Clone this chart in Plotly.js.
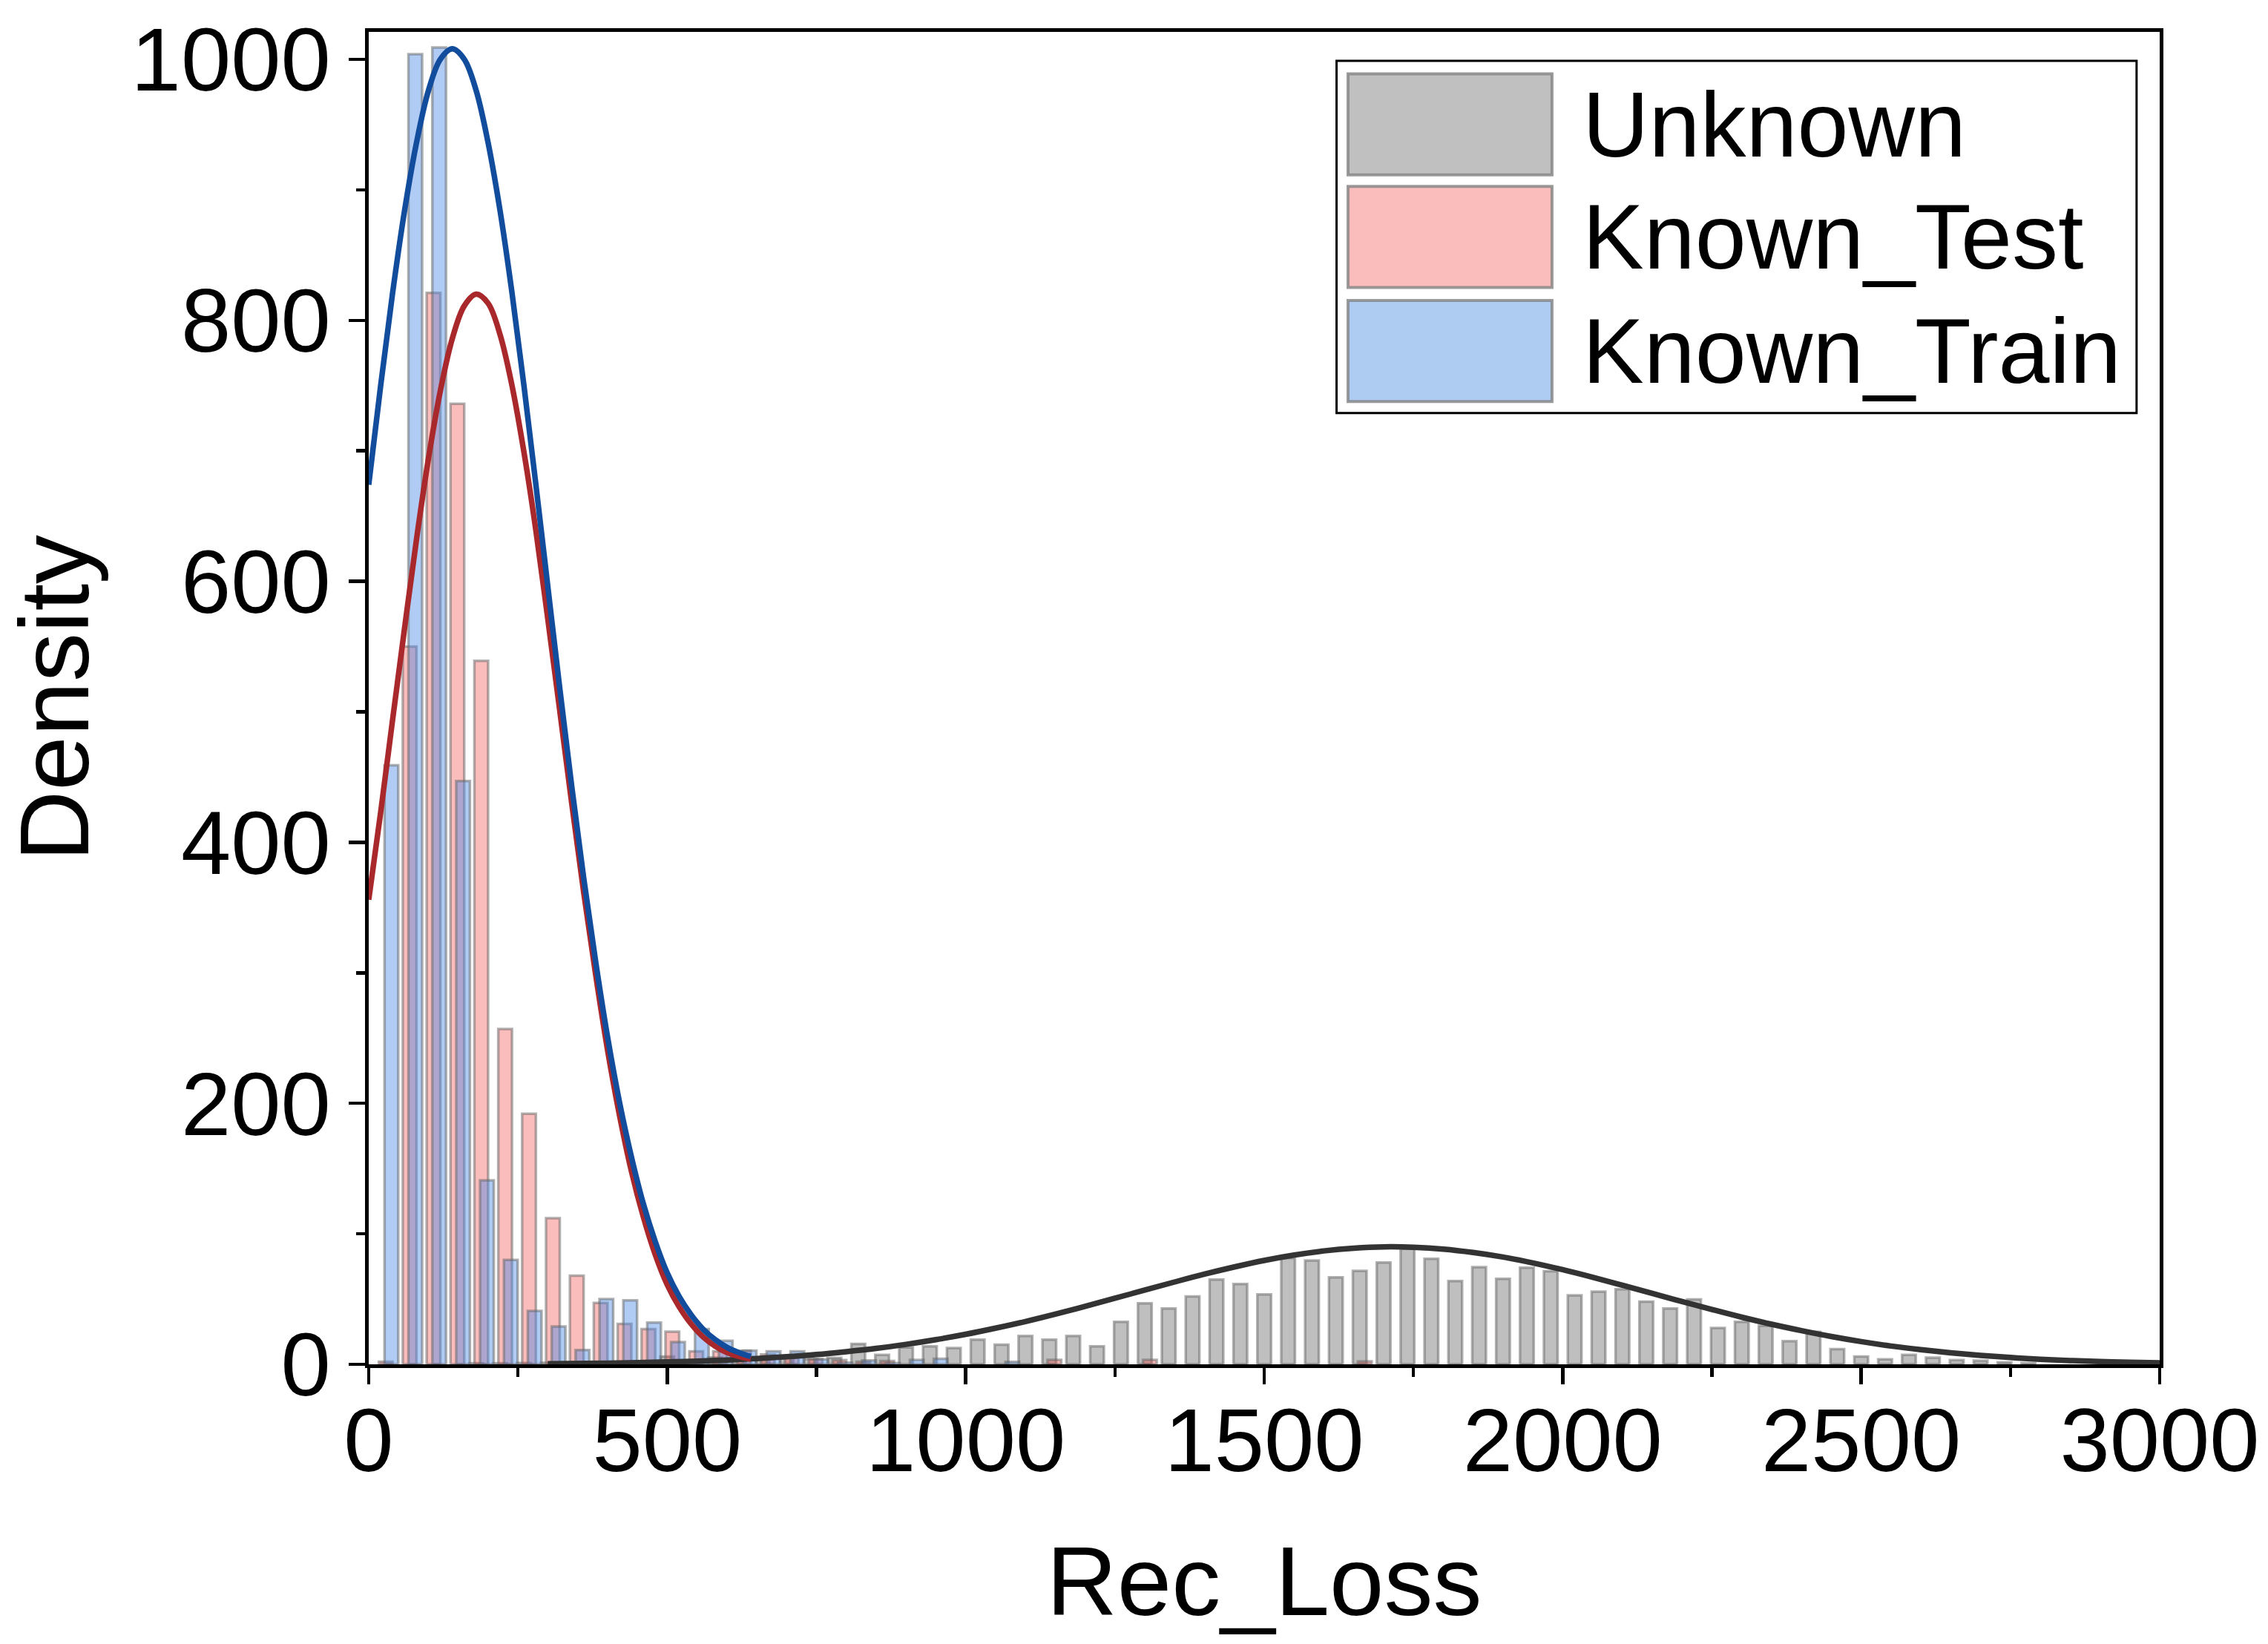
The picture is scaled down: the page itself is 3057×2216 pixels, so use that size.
<!DOCTYPE html>
<html>
<head>
<meta charset="utf-8">
<script src="https://cdn.plot.ly/plotly-3.0.1.min.js"></script>
<style>html,body{margin:0;padding:0;background:#fff;}#chart{width:3057px;height:2216px;}</style>
</head>
<body>
<div id="chart"></div>
<script>
// ---- Data ----
// histogram bin centres (bin width 40)
const binCenters = [20,60,100,140,180,220,260,300,340,380,420,460,500,540,580,620,660,700,740,780,
  820,860,900,940,980,1020,1060,1100,1140,1180,1220,1260,1300,1340,1380,1420,1460,1500,1540,1580,
  1620,1660,1700,1740,1780,1820,1860,1900,1940,1980,2020,2060,2100,2140,2180,2220,2260,2300,2340,2380,
  2420,2460,2500,2540,2580,2620,2660,2700,2740,2780];

const unknownDensity = [0,0,0,0,0.8,0.8,1,1.2,1,1,1.5,1.2,6,3,5.3,4,4,5,4,5,
  15.7,7.2,13,13.8,12.5,18.9,15,21.7,18.9,21.7,13.8,32.5,46.8,42.8,52,65,61.5,53.6,81.5,79.6,
  66.6,71.7,78,88.7,80.8,63.8,74.5,65.5,74,71.3,52.8,55.7,57.5,48,42.8,49.8,27.9,32.6,29.6,17.7,
  24.9,11.7,6.0,3.8,7.2,5.1,3.2,2.8,1.5,0.9];

const testDensity = [2,550,821,736,539,257,192,112,68,47,31,27,25,10,10,10.4,7.6,5,4,3.2,
  2,2.5,0,0,0,0,0,0,3.4,0,0,0,3.4,0,0,0,0,0,0,0,
  0,2.3,0,0,0,0,0,0,0,0,0,0,0,0,0,0,0,0,0,0,
  0,0,0,0,0,0,0,0,0,0];

const trainDensity = [459,1004,1009,447,141,80,41,29,11,50,49,32,17,27,18,10.5,10,10,3.8,1.3,
  3,1,3.4,4.2,0,0,1.9,0,0,0,0,0,0,0,0,0,0,0,0,0,
  0,0,0,0,0,0,0,0,0,0,0,0,0,0,0,0,0,0,0,0,
  0,0,0,0,0,0,0,0,0,0];

// fitted curves
const knownCurveX = [0,20,40,60,80,100,120,140,160,180,200,220,240,260,280,300,320,340,360,380,
  400,420,440,460,480,500,520,540,560,580,600,620,640];
const trainCurveY = [674,750,821,884,936,976,1000,1008,1000,976,936,884,821,750,674,596,518,443,373,309,
  251,201,159,123,94,70,52,38,27,19,13,9,6];
const testCurveY = [356,423,494,564,632,694,746,786,811,820,813,789,750,699,639,571,501,430,362,299,
  241,191,148,113,84,61,44,31,21,14,9,6,4];

const unknownCurveX = [300,400,450,500,550,600,650,700,750,800,850,900,950,1000,1050,1100,1150,1200,1250,1300,
  1350,1400,1450,1500,1550,1600,1650,1700,1750,1800,1850,1900,1950,2000,2050,2100,2150,2200,2250,2300,
  2350,2400,2450,2500,2550,2600,2650,2700,2750,2800,2850,2900,2950,3000];
const unknownCurveY = [0.4,0.9,1.3,1.8,2.4,3.3,4.4,5.8,7.5,9.7,12.2,15.3,18.9,23.0,27.7,32.8,38.4,44.4,50.6,56.9,
  63.1,69.1,74.6,79.6,83.7,86.9,89.0,90.0,89.7,88.3,85.7,82.2,77.7,72.5,66.7,60.6,54.3,48.1,42.0,36.1,
  30.7,25.8,21.3,17.4,14.0,11.2,8.8,6.8,5.2,3.9,2.9,2.1,1.5,1.1];

const seriesNames = ['Unknown', 'Known_Test', 'Known_Train'];
const xTitle = 'Rec_Loss';
const yTitle = 'Density';

// ---- Styles ----
const FONT = 'Liberation Sans, Arial, Helvetica, sans-serif';
const barFill = ['rgba(128,128,128,0.5)', 'rgba(244,64,64,0.35)', 'rgba(75,140,230,0.44)'];
const swatchFill = ['rgb(192,192,192)', 'rgb(251,188,188)', 'rgb(174,203,242)'];
const barEdge = 'rgba(100,100,100,0.5)';
const barOffsets = [-11.5, -3, 6.5];
const barWidth = 23;

function nonZero(xs, ys) {
  const X = [], Y = [];
  for (let i = 0; i < ys.length; i++) if (ys[i] > 0) { X.push(xs[i]); Y.push(ys[i]); }
  return {X, Y};
}

const dens = [unknownDensity, testDensity, trainDensity];
const traces = [];
for (let s = 0; s < 3; s++) {
  const d = nonZero(binCenters, dens[s]);
  traces.push({
    type: 'bar', name: seriesNames[s], x: d.X, y: d.Y,
    width: barWidth, offset: barOffsets[s],
    marker: {color: barFill[s], line: {color: barEdge, width: 3.5}},
    showlegend: false, hoverinfo: 'x+y'
  });
}
traces.push({type: 'scatter', mode: 'lines', x: unknownCurveX, y: unknownCurveY,
  line: {color: '#333333', width: 7.5, shape: 'spline'}, showlegend: false});
traces.push({type: 'scatter', mode: 'lines', x: knownCurveX, y: testCurveY,
  line: {color: '#a8282c', width: 7.5, shape: 'spline'}, showlegend: false});
traces.push({type: 'scatter', mode: 'lines', x: knownCurveX, y: trainCurveY,
  line: {color: '#124c9c', width: 7.5, shape: 'spline'}, showlegend: false});

// custom legend (large swatches as in the original)
const legBox = {x0: 0.5404, x1: 0.9871, y0: 0.714, y1: 0.9783};
const swX = [0.5468, 0.6607];
const swY = [[0.8927, 0.9686], [0.8082, 0.8841], [0.7226, 0.7985]];
const shapes = [{type: 'rect', xref: 'paper', yref: 'paper', x0: legBox.x0, x1: legBox.x1, y0: legBox.y0, y1: legBox.y1,
  line: {color: 'black', width: 3}, fillcolor: 'white', layer: 'above'}];
const annotations = [];
for (let s = 0; s < 3; s++) {
  shapes.push({type: 'rect', xref: 'paper', yref: 'paper', x0: swX[0], x1: swX[1], y0: swY[s][0], y1: swY[s][1],
    line: {color: 'rgba(130,130,130,0.8)', width: 4}, fillcolor: swatchFill[s], layer: 'above'});
  annotations.push({xref: 'paper', yref: 'paper', x: 0.677, y: (swY[s][0] + swY[s][1]) / 2,
    xanchor: 'left', yanchor: 'middle', showarrow: false, text: seriesNames[s],
    font: {family: FONT, size: 124, color: 'black'}});
}

const axisCommon = {
  ticks: 'outside', ticklen: 22, tickwidth: 4.5, tickcolor: 'black',
  showline: true, linewidth: 5, linecolor: 'black', mirror: true,
  showgrid: false, zeroline: false,
  tickfont: {family: FONT, size: 121, color: 'black'}
};

const layout = {
  width: 3057, height: 2216,
  margin: {l: 497, r: 146, t: 43, b: 377},
  paper_bgcolor: 'white', plot_bgcolor: 'white',
  barmode: 'overlay', showlegend: false,
  font: {family: FONT, color: 'black'},
  xaxis: Object.assign({}, axisCommon, {
    range: [0, 3000], dtick: 500, tick0: 0, ticklabelstandoff: -28,
    minor: {dtick: 250, ticks: 'outside', ticklen: 12, tickwidth: 4.5, tickcolor: 'black'},
    title: {text: xTitle, font: {family: FONT, size: 132, color: 'black'}, standoff: 78}
  }),
  yaxis: Object.assign({}, axisCommon, {
    range: [0, 1021], dtick: 200, tick0: 0,
    minor: {dtick: 100, ticks: 'outside', ticklen: 12, tickwidth: 4.5, tickcolor: 'black'},
    title: {text: yTitle, font: {family: FONT, size: 132, color: 'black'}, standoff: 30}
  }),
  shapes: shapes,
  annotations: annotations
};

Plotly.newPlot('chart', traces, layout, {staticPlot: true, displayModeBar: false});
</script>
</body>
</html>
